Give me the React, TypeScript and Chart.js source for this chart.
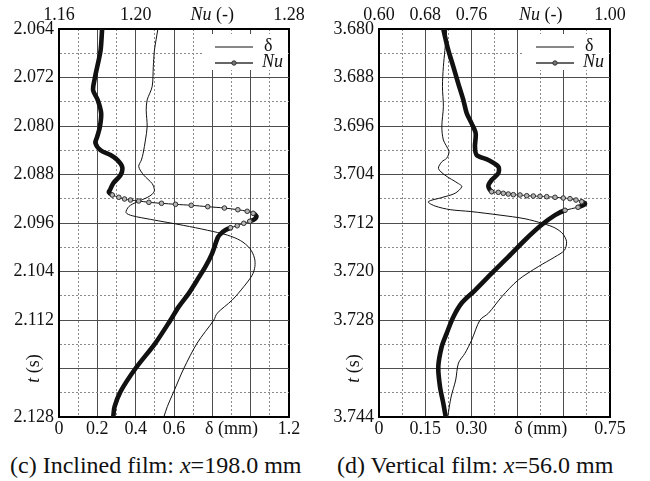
import React, { useEffect, useRef } from 'react';
import { Chart, registerables } from 'chart.js';

Chart.register(...registerables);

const FONT = "'Liberation Serif', monospace";

// ---------- Panel (c): inclined film, x = 198.0 mm ----------
const cDeltaTime = [2.0640, 2.0675, 2.0702, 2.0735, 2.0757, 2.0774, 2.0801, 2.0823, 2.0845, 2.0856, 2.0867, 2.0881, 2.0895, 2.0906, 2.0912, 2.0918, 2.0925, 2.0933, 2.0943, 2.0948, 2.0954, 2.0964, 2.0972, 2.0980, 2.0989, 2.1002, 2.1018, 2.1032, 2.1046, 2.1065, 2.1087, 2.1109, 2.1120, 2.1158, 2.1200, 2.1238, 2.1263, 2.1280];
const cDelta = [0.516, 0.498, 0.492, 0.486, 0.460, 0.455, 0.460, 0.451, 0.439, 0.430, 0.416, 0.442, 0.486, 0.498, 0.488, 0.460, 0.408, 0.364, 0.350, 0.382, 0.477, 0.651, 0.775, 0.879, 0.947, 0.996, 1.020, 1.022, 1.008, 0.964, 0.904, 0.825, 0.808, 0.721, 0.651, 0.599, 0.565, 0.547];
const cNuTime = [2.0640, 2.0675, 2.0703, 2.0721, 2.0741, 2.0757, 2.0779, 2.0802, 2.0818, 2.0828, 2.0840, 2.0848, 2.0856, 2.0868, 2.0881, 2.0894, 2.0906, 2.0909, 2.09138, 2.09176, 2.09204, 2.09221, 2.09237, 2.09259, 2.09275, 2.09292, 2.09308, 2.09331, 2.09353, 2.09381, 2.09407, 2.09440, 2.09485, 2.09539, 2.09572, 2.09605, 2.09645, 2.09678, 2.09716, 2.09770, 2.09836, 2.1010, 2.1032, 2.1054, 2.1076, 2.1098, 2.1120, 2.1158, 2.1200, 2.1238, 2.1263, 2.1280];
const cNu = [1.1825, 1.1817, 1.1799, 1.1787, 1.1778, 1.1802, 1.1820, 1.1813, 1.1799, 1.1790, 1.1817, 1.1869, 1.1904, 1.1930, 1.1921, 1.1884, 1.1865, 1.1860, 1.1878, 1.1912, 1.1942, 1.1973, 1.2016, 1.2069, 1.2135, 1.2208, 1.2290, 1.2376, 1.2463, 1.2533, 1.2582, 1.2613, 1.2630, 1.2620, 1.2595, 1.2564, 1.2530, 1.2495, 1.2469, 1.2446, 1.2429, 1.2399, 1.2364, 1.2321, 1.2277, 1.2225, 1.2182, 1.2103, 1.1999, 1.1921, 1.1890, 1.1883];
const cTimeTickValues = [2.064, 2.072, 2.080, 2.088, 2.096, 2.104, 2.112, 2.128];
const cTimeTickLabels = ['2.064', '2.072', '2.080', '2.088', '2.096', '2.104', '2.112', '2.128'];
const cDeltaTickValues = [0, 0.2, 0.4, 0.6, 0.9, 1.2];
const cDeltaTickLabels = ['0', '0.2', '0.4', '0.6', 'δ (mm)', '1.2'];
const cNuTickValues = [1.16, 1.20, 1.28];
const cNuTickLabels = ['1.16', '1.20', '1.28'];

// ---------- Panel (d): vertical film, x = 56.0 mm ----------
const dDeltaTime = [3.6800, 3.6835, 3.6862, 3.6895, 3.6928, 3.6961, 3.6983, 3.7002, 3.7013, 3.7019, 3.7030, 3.7041, 3.7055, 3.7060, 3.7071, 3.7078, 3.7085, 3.7092, 3.7098, 3.7101, 3.7107, 3.7113, 3.7121, 3.7128, 3.7138, 3.7151, 3.7165, 3.7176, 3.7192, 3.7214, 3.7242, 3.7269, 3.7280, 3.7313, 3.7335, 3.7351, 3.7379, 3.7407, 3.7440];
const dDelta = [0.220, 0.214, 0.209, 0.206, 0.209, 0.204, 0.209, 0.227, 0.220, 0.204, 0.193, 0.214, 0.258, 0.269, 0.247, 0.204, 0.160, 0.182, 0.231, 0.296, 0.393, 0.474, 0.533, 0.571, 0.597, 0.609, 0.602, 0.571, 0.517, 0.452, 0.398, 0.355, 0.328, 0.301, 0.279, 0.258, 0.249, 0.234, 0.223];
const dNuTime = [3.6800, 3.6835, 3.6862, 3.6890, 3.6917, 3.6939, 3.6956, 3.6972, 3.6994, 3.7008, 3.7016, 3.7027, 3.7038, 3.7049, 3.7059, 3.70684, 3.70694, 3.70710, 3.70722, 3.70733, 3.70738, 3.70750, 3.70755, 3.70760, 3.70766, 3.70776, 3.70788, 3.70799, 3.70821, 3.70849, 3.70887, 3.7094, 3.7099, 3.7107, 3.7123, 3.7148, 3.7176, 3.7203, 3.7231, 3.7252, 3.7275, 3.7302, 3.7324, 3.7357, 3.7390, 3.7417, 3.7440];
const dNu = [0.7113, 0.7200, 0.7287, 0.7373, 0.7460, 0.7519, 0.7605, 0.7674, 0.7662, 0.7692, 0.7893, 0.8066, 0.8066, 0.7951, 0.7893, 0.7951, 0.8066, 0.8152, 0.8239, 0.8326, 0.8442, 0.8558, 0.8672, 0.8788, 0.8904, 0.9048, 0.9191, 0.9307, 0.9411, 0.9510, 0.9567, 0.9446, 0.9221, 0.9048, 0.8817, 0.8528, 0.8239, 0.7951, 0.7662, 0.7432, 0.7287, 0.7172, 0.7086, 0.7027, 0.7056, 0.7113, 0.7155];
const dTimeTickValues = [3.680, 3.688, 3.696, 3.704, 3.712, 3.720, 3.728, 3.744];
const dTimeTickLabels = ['3.680', '3.688', '3.696', '3.704', '3.712', '3.720', '3.728', '3.744'];
const dDeltaTickValues = [0, 0.15, 0.30, 0.525, 0.75];
const dDeltaTickLabels = ['0', '0.15', '0.30', 'δ (mm)', '0.75'];
const dNuTickValues = [0.60, 0.68, 0.76, 1.00];
const dNuTickLabels = ['0.60', '0.68', '0.76', '1.00'];

type PanelCfg = {
  deltaTime: number[]; delta: number[]; nuTime: number[]; nu: number[];
  tMin: number; tMax: number; tStep: number; tTickValues: number[]; tTickLabels: string[]; tTitleAt: number;
  dMin: number; dMax: number; dStep: number; dTickValues: number[]; dTickLabels: string[];
  nMin: number; nMax: number; nStep: number; nTickValues: number[]; nTickLabels: string[]; nTitleAt: number;
  yAxisWidth: number; padRight: number;
};

const panelC: PanelCfg = {
  deltaTime: cDeltaTime, delta: cDelta, nuTime: cNuTime, nu: cNu,
  tMin: 2.064, tMax: 2.128, tStep: 0.004, tTickValues: cTimeTickValues, tTickLabels: cTimeTickLabels, tTitleAt: 2.120,
  dMin: 0, dMax: 1.2, dStep: 0.1, dTickValues: cDeltaTickValues, dTickLabels: cDeltaTickLabels,
  nMin: 1.16, nMax: 1.28, nStep: 0.01, nTickValues: cNuTickValues, nTickLabels: cNuTickLabels, nTitleAt: 1.24,
  yAxisWidth: 59, padRight: 36,
};

const panelD: PanelCfg = {
  deltaTime: dDeltaTime, delta: dDelta, nuTime: dNuTime, nu: dNu,
  tMin: 3.680, tMax: 3.744, tStep: 0.004, tTickValues: dTimeTickValues, tTickLabels: dTimeTickLabels, tTitleAt: 3.736,
  dMin: 0, dMax: 0.75, dStep: 0.075, dTickValues: dDeltaTickValues, dTickLabels: dDeltaTickLabels,
  nMin: 0.60, nMax: 1.00, nStep: 0.04, nTickValues: dNuTickValues, nTickLabels: dNuTickLabels, nTitleAt: 0.88,
  yAxisWidth: 54, padRight: 40,
};

const CANVAS_W = 325;
const CANVAS_H = 445;
const TICK_SIZE = 18;
const TOP_PAD = 3;
const SLOPE = 2.5;
const TEXT = '#111';

const labelFor = (vals: number[], labels: string[]) => (v: any) => {
  const i = vals.findIndex((x) => Math.abs(x - Number(v)) < 1e-6);
  return i >= 0 ? labels[i] : '';
};

const isThin = (x0: number, y0: number, x1: number, y1: number) =>
  Math.abs(x1 - x0) > SLOPE * Math.abs(y1 - y0);

const gridColor = (ctx: any) => {
  const n = ctx.scale.ticks.length;
  if (ctx.index === n - 1) return '#000';
  return ctx.index % 2 === 0 ? '#4d4d4d' : '#8a8a8a';
};
const gridWidthX = (ctx: any) => (ctx.index === ctx.scale.ticks.length - 1 ? 2 : 1);
const gridDash = (ctx: any) => (ctx.type === 'tick' && ctx.index % 2 === 1 ? [2, 2] : []);

function makeConfig(p: PanelCfg): any {
  const nuPointRadius = (ctx: any) => {
    const chart = ctx.chart;
    const xs = chart.scales.x2;
    const ys = chart.scales.y;
    const data = ctx.dataset.data;
    const i = ctx.dataIndex;
    if (!xs || !ys || !data || !data[i]) return 0;
    const px = (d: any) => [xs.getPixelForValue(d.x), ys.getPixelForValue(d.y)];
    const thin = (a: any, b: any) => {
      const [x0, y0] = px(a);
      const [x1, y1] = px(b);
      return isThin(x0, y0, x1, y1);
    };
    const prevThin = i > 0 && thin(data[i - 1], data[i]);
    const nextThin = i < data.length - 1 && thin(data[i], data[i + 1]);
    return prevThin || nextThin ? 2.3 : 0;
  };

  const extras = {
    id: 'extras',
    beforeDatasetsDraw(chart: any) {
      const { ctx, chartArea: a } = chart;
      ctx.save();
      ctx.fillStyle = '#fff';
      ctx.fillRect(a.right - 86, a.top + 5, 85, 36);
      ctx.strokeStyle = '#111';
      ctx.lineWidth = 1;
      ctx.beginPath();
      ctx.moveTo(a.right - 74, a.top + 18);
      ctx.lineTo(a.right - 36, a.top + 18);
      ctx.stroke();
      ctx.strokeStyle = '#333';
      ctx.lineWidth = 1.5;
      ctx.beginPath();
      ctx.moveTo(a.right - 74, a.top + 34);
      ctx.lineTo(a.right - 36, a.top + 34);
      ctx.stroke();
      ctx.beginPath();
      ctx.arc(a.right - 55, a.top + 34, 2.2, 0, Math.PI * 2);
      ctx.fillStyle = '#777';
      ctx.fill();
      ctx.lineWidth = 1;
      ctx.stroke();
      ctx.fillStyle = TEXT;
      ctx.textAlign = 'left';
      ctx.textBaseline = 'middle';
      ctx.font = `18px ${FONT}`;
      ctx.fillText('δ', a.right - 25, a.top + 17);
      ctx.font = `italic 18px ${FONT}`;
      ctx.fillText('Nu', a.right - 27, a.top + 33);
      ctx.restore();
    },
    afterDraw(chart: any) {
      const { ctx, chartArea: a, scales } = chart;
      ctx.save();
      ctx.fillStyle = TEXT;
      ctx.textBaseline = 'middle';
      ctx.textAlign = 'left';
      const cx = scales.x2.getPixelForValue(p.nTitleAt);
      const cy = a.top - TOP_PAD - 0.6 * TICK_SIZE;
      ctx.font = `italic ${TICK_SIZE}px ${FONT}`;
      const w1 = ctx.measureText('Nu').width;
      ctx.font = `${TICK_SIZE}px ${FONT}`;
      const w2 = ctx.measureText(' (-)').width;
      let x = cx - (w1 + w2) / 2;
      ctx.font = `italic ${TICK_SIZE}px ${FONT}`;
      ctx.fillText('Nu', x, cy);
      ctx.font = `${TICK_SIZE}px ${FONT}`;
      ctx.fillText(' (-)', x + w1, cy);
      const ty = scales.y.getPixelForValue(p.tTitleAt);
      ctx.translate(a.left - 25, ty);
      ctx.rotate(-Math.PI / 2);
      ctx.font = `italic ${TICK_SIZE}px ${FONT}`;
      const t1 = ctx.measureText('t').width;
      ctx.font = `${TICK_SIZE}px ${FONT}`;
      const t2 = ctx.measureText(' (s)').width;
      x = -(t1 + t2) / 2;
      ctx.font = `italic ${TICK_SIZE}px ${FONT}`;
      ctx.fillText('t', x, 0);
      ctx.font = `${TICK_SIZE}px ${FONT}`;
      ctx.fillText(' (s)', x + t1, 0);
      ctx.restore();
    },
  };

  const tickFont = { family: FONT, size: TICK_SIZE };

  return {
    type: 'line',
    data: {
      datasets: [
        {
          label: 'Nu',
          data: p.nuTime.map((t, i) => ({ x: p.nu[i], y: t })),
          xAxisID: 'x2',
          yAxisID: 'y',
          borderColor: '#111',
          borderWidth: 1,
          tension: 0.3,
          borderCapStyle: 'round',
          borderJoinStyle: 'round',
          pointRadius: nuPointRadius,
          pointBackgroundColor: '#b5b5b5',
          pointBorderColor: '#333',
          pointBorderWidth: 1,
          segment: {
            borderWidth: (ctx: any) => (isThin(ctx.p0.x, ctx.p0.y, ctx.p1.x, ctx.p1.y) ? 1 : 4.6),
          },
        },
        {
          label: 'δ',
          data: p.deltaTime.map((t, i) => ({ x: p.delta[i], y: t })),
          xAxisID: 'x',
          yAxisID: 'y',
          borderColor: '#111',
          borderWidth: 1,
          tension: 0.3,
          pointRadius: 0,
        },
      ],
    },
    options: {
      animation: false,
      responsive: false,
      events: [],
      font: { family: FONT },
      layout: { padding: { left: 0, right: p.padRight, top: 0, bottom: 0 } },
      plugins: { legend: { display: false }, tooltip: { enabled: false }, title: { display: false } },
      scales: {
        x: {
          type: 'linear',
          position: 'bottom',
          min: p.dMin,
          max: p.dMax,
          ticks: {
            stepSize: p.dStep,
            autoSkip: false,
            maxRotation: 0,
            padding: 1,
            font: tickFont,
            color: TEXT,
            callback: labelFor(p.dTickValues, p.dTickLabels),
          },
          grid: { drawTicks: false, color: gridColor, lineWidth: gridWidthX },
          border: { display: true, color: '#000', width: 2, dash: gridDash },
          afterFit: (s: any) => { s.height = CANVAS_H - 417; },
        },
        x2: {
          type: 'linear',
          position: 'top',
          min: p.nMin,
          max: p.nMax,
          ticks: {
            stepSize: p.nStep,
            autoSkip: false,
            maxRotation: 0,
            padding: TOP_PAD,
            font: tickFont,
            color: TEXT,
            callback: labelFor(p.nTickValues, p.nTickLabels),
          },
          grid: { display: false, drawTicks: false },
          border: { display: true, color: '#000', width: 2 },
          afterFit: (s: any) => { s.height = 29; },
        },
        y: {
          type: 'linear',
          reverse: true,
          min: p.tMin,
          max: p.tMax,
          ticks: {
            stepSize: p.tStep,
            autoSkip: false,
            padding: 5,
            font: tickFont,
            color: TEXT,
            callback: labelFor(p.tTickValues, p.tTickLabels),
          },
          grid: { drawTicks: false, color: (ctx: any) => (ctx.index % 2 === 0 ? '#4d4d4d' : '#8a8a8a'), lineWidth: 1 },
          border: { display: true, color: '#000', width: 2, dash: gridDash },
          afterFit: (s: any) => { s.width = p.yAxisWidth; },
        },
      },
    },
    plugins: [extras],
  };
}

function Panel({ cfg, left }: { cfg: PanelCfg; left: number }) {
  const ref = useRef<HTMLCanvasElement | null>(null);
  useEffect(() => {
    if (!ref.current) return;
    const chart = new Chart(ref.current, makeConfig(cfg));
    return () => chart.destroy();
  }, [cfg]);
  return (
    <canvas
      ref={ref}
      width={CANVAS_W}
      height={CANVAS_H}
      style={{ position: 'absolute', left, top: 0, width: CANVAS_W, height: CANVAS_H }}
    />
  );
}

const captionStyle: React.CSSProperties = {
  position: 'absolute',
  top: 451,
  fontSize: 24,
  lineHeight: '28px',
  whiteSpace: 'nowrap',
  color: TEXT,
  fontFamily: FONT,
};

export default function App() {
  return (
    <div style={{ position: 'absolute', left: 0, top: 0, width: 650, height: 481, background: '#fff', overflow: 'hidden', fontFamily: FONT }}>
      <Panel cfg={panelC} left={0} />
      <Panel cfg={panelD} left={325} />
      <div style={{ ...captionStyle, left: 10 }}>
        (c) Inclined film: <i>x</i>=198.0 mm
      </div>
      <div style={{ ...captionStyle, left: 337 }}>
        (d) Vertical film: <i>x</i>=56.0 mm
      </div>
    </div>
  );
}
